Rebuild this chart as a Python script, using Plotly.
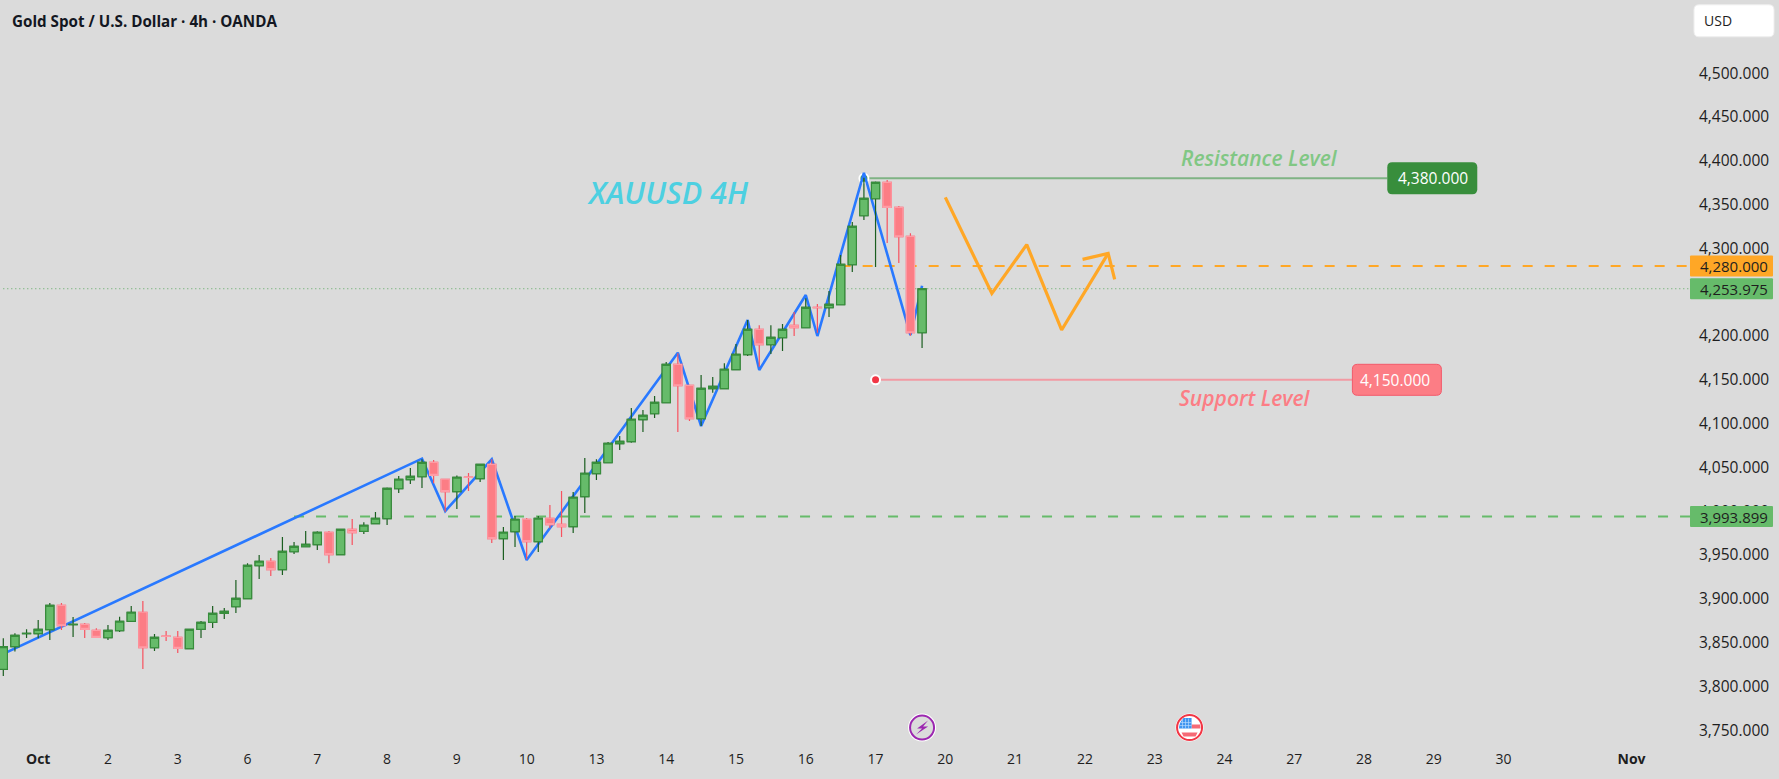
import plotly.graph_objects as go

# XAUUSD 4h bars, oldest first
opens = [3819.5,3845.4,3860.2,3860.2,3864.8,3892.5,3870.4,3870.8,3864.0,3855.6,3863.6,3874.3,3884.6,3844.2,3857.4,3856.0,3843.1,3865.1,3873.1,3883.4,
         3891.0,3900.2,3937.8,3942.8,3933.3,3953.8,3959.5,3961.8,3975.9,3950.4,3979.3,3977.0,3985.8,3991.5,4025.7,4036.0,4039.4,4055.8,4036.4,4022.3,
         4038.9,4037.2,4053.5,3968.7,3976.7,3990.8,3965.3,3991.9,3985.0,3982.4,4016.6,4042.9,4055.4,4077.1,4079.4,4104.5,4111.3,4123.9,4167.6,4143.7,
         4105.6,4139.9,4139.9,4161.6,4178.7,4207.6,4190.1,4198.1,4212.2,4209.5,4232.7,4232.3,4235.7,4281.4,4337.3,4356.7,4375.4,4346.9,4313.7,4203.8]
highs = [3854.9,3860.6,3865.1,3875.8,3895.2,3895.2,3879.2,3872.4,3866.3,3870.1,3879.6,3891.8,3897.5,3859.8,3863.2,3863.2,3865.1,3874.7,3891.8,3889.5,
         3921.5,3940.5,3950.0,3946.6,3970.5,3964.8,3977.4,3977.0,3977.4,3979.3,3991.1,3987.3,3999.1,4027.2,4040.2,4049.3,4059.2,4058.4,4036.4,4040.9,
         4043.6,4053.9,4059.2,3982.0,3994.6,3992.3,3994.6,4007.1,4023.1,4022.0,4060.8,4059.2,4079.0,4085.9,4117.8,4115.5,4131.5,4170.3,4180.2,4143.7,
         4155.5,4153.2,4168.8,4190.8,4218.2,4212.2,4212.2,4213.7,4227.4,4243.0,4236.5,4251.3,4292.4,4330.1,4380.7,4376.5,4378.0,4348.4,4317.2,4254.4]
lows = [3811.9,3839.7,3855.3,3854.9,3853.0,3864.4,3856.4,3855.3,3855.6,3853.0,3862.1,3874.3,3819.9,3840.4,3851.8,3838.1,3843.1,3855.3,3866.7,3876.9,
        3883.8,3900.2,3922.6,3926.0,3927.2,3951.1,3959.5,3955.7,3940.5,3950.4,3961.4,3974.0,3985.8,3984.2,4020.8,4031.0,4026.5,4031.8,3999.5,4002.5,
        4023.0,4033.4,3963.7,3944.3,3959.2,3945.1,3953.5,3980.5,3970.6,3975.2,3998.0,4035.6,4055.4,4069.9,4078.2,4090.4,4106.4,4123.9,4090.4,4103.0,
        4097.2,4135.3,4139.9,4161.6,4177.2,4165.0,4179.4,4182.9,4200.0,4209.5,4203.8,4221.7,4235.7,4273.0,4332.4,4278.7,4306.1,4283.3,4200.4,4186.3]
closes = [3845.4,3858.3,3860.6,3865.1,3892.5,3869.3,3870.8,3865.1,3856.0,3864.0,3874.3,3884.6,3844.2,3856.0,3857.0,3843.4,3865.1,3873.1,3883.4,3885.7,
          3900.5,3938.2,3942.8,3933.3,3954.2,3959.9,3962.2,3975.9,3950.4,3979.3,3975.5,3983.9,3991.9,4026.1,4036.4,4039.8,4055.8,4040.9,4022.3,4038.7,
          4038.5,4053.5,3968.7,3975.9,3990.8,3965.3,3991.9,3984.7,3982.4,4015.9,4043.3,4055.8,4077.5,4079.8,4104.9,4109.4,4124.3,4167.6,4143.3,4105.6,
          4140.2,4142.5,4162.0,4179.1,4207.6,4190.1,4198.5,4207.6,4209.5,4232.7,4232.3,4236.1,4281.8,4325.2,4357.1,4375.4,4346.9,4313.4,4203.8,4253.975]

# Blue swing line through the highs and lows
swing_bars = [-0.28,36,38,42,45,58,60,64,65,69,70,74,78,79]
swing_prices = [3835.5,4060.0,4000.2,4059.2,3944.3,4181.0,4097.2,4218.2,4161.2,4246.8,4200.0,4386.4,4201.1,4257.4]

# Projected path in orange, with its arrow head
path_bars = [81,85,88,91,95]
path_prices = [4358.3,4248.7,4304.3,4206.9,4294.4]
head_bars = [92.8,95,95.56]
head_prices = [4287.5,4294.4,4264.7]

# Levels
last_price = 4253.975
orange_level = 4280.0
green_level = 3993.899
resistance = 4380.0
support = 4150.0

# Axis labels
price_ticks = [3750,3800,3850,3900,3950,4000,4050,4100,4150,4200,4300,4350,4400,4450,4500]
date_bars = [3,9,15,21,27,33,39,45,51,57,63,69,75,81,87,93,99,105,111,117,123,129,140]
date_labels = ["<b>Oct</b>","2","3","6","7","8","9","10","13","14","15","16","17","20","21","22","23","24","27","28","29","30","<b>Nov</b>"]

X_RANGE = [-0.284, 145.03]
Y_RANGE = [3733.1, 4583.6]
END_BAR = X_RANGE[1]

GREEN = "#66bb6a"
ORANGE = "#ffa726"
RED = "#fc7d85"
BG = "#dbdbdb"
TEXT = "#1e1e1e"
FONT = "Open Sans, sans-serif"

bars = list(range(len(opens)))
fig = go.Figure()


def level(x0, x1, y, color, width, dash="solid"):
    fig.add_trace(go.Scatter(x=[x0, x1], y=[y, y], mode="lines", hoverinfo="skip",
                             line=dict(color=color, width=width, dash=dash)))


level(0, END_BAR, last_price, "#5aa860", 1, "1px,3px")
level(25, END_BAR, green_level, GREEN, 2, "10px,12px")
level(72, END_BAR, orange_level, ORANGE, 2, "10px,12px")
level(74, 119, resistance, "#7fb384", 2)
level(75, 116, support, "#f29aa3", 2)

# Anchor dots of the two level lines
fig.add_trace(go.Scatter(x=[74], y=[resistance], mode="markers", hoverinfo="skip",
                         marker=dict(size=9, color="#43a047", line=dict(color="white", width=2))))
fig.add_trace(go.Scatter(x=[75], y=[support], mode="markers", hoverinfo="skip",
                         marker=dict(size=9, color="#f23645", line=dict(color="white", width=2))))

fig.add_trace(go.Scatter(x=swing_bars, y=swing_prices, mode="lines", hoverinfo="skip",
                         line=dict(color="#2979ff", width=2.6)))
fig.add_trace(go.Scatter(x=path_bars, y=path_prices, mode="lines", hoverinfo="skip",
                         line=dict(color=ORANGE, width=3.2)))
fig.add_trace(go.Scatter(x=head_bars, y=head_prices, mode="lines", hoverinfo="skip",
                         line=dict(color=ORANGE, width=3.2)))

# Wicks first, then the bodies on top, so each can have its own outline colour
fig.add_trace(go.Candlestick(x=bars, open=opens, high=highs, low=lows, close=closes,
                             xaxis="x2", yaxis="y2", whiskerwidth=0, hoverinfo="skip",
                             increasing=dict(line=dict(color="#1b5e20", width=1.2), fillcolor=GREEN),
                             decreasing=dict(line=dict(color="#f7525f", width=1.2), fillcolor=RED)))
fig.add_trace(go.Candlestick(x=bars, open=opens, close=closes,
                             high=[max(o, c) for o, c in zip(opens, closes)],
                             low=[min(o, c) for o, c in zip(opens, closes)],
                             xaxis="x2", yaxis="y2", whiskerwidth=0, hoverinfo="skip",
                             increasing=dict(line=dict(color="#388e3c", width=1.1), fillcolor=GREEN),
                             decreasing=dict(line=dict(color="#ff9ca6", width=1.1), fillcolor=RED)))


def rounded(w, h, r):
    return (f"M {r} {h/2} L {w-r} {h/2} Q {w} {h/2} {w} {h/2-r} L {w} {-h/2+r} Q {w} {-h/2} {w-r} {-h/2} "
            f"L {r} {-h/2} Q 0 {-h/2} 0 {-h/2+r} L 0 {h/2-r} Q 0 {h/2} {r} {h/2} Z")


def pixel_path(xanchor, yanchor, path, fill, line=None, lw=0, xref="x"):
    return dict(type="path", xref=xref, yref="y", xsizemode="pixel", ysizemode="pixel",
                xanchor=xanchor, yanchor=yanchor, path=path, fillcolor=fill,
                line=dict(color=line or fill, width=lw), layer="above")


def pixel_circle(xanchor, yanchor, r, fill, line, lw):
    return dict(type="circle", xref="x", yref="y", xsizemode="pixel", ysizemode="pixel",
                xanchor=xanchor, yanchor=yanchor, x0=-r, x1=r, y0=-r, y1=r,
                fillcolor=fill, line=dict(color=line, width=lw), layer="above")


shapes = [
    pixel_path(119, resistance, rounded(90, 32, 5), "#388e3c"),
    pixel_path(116, support, rounded(89, 31, 5), RED, "#f2596a", 1),
    # price tags on the scale
    pixel_path(1, orange_level, rounded(83, 21, 1), ORANGE, xref="paper"),
    pixel_path(1, last_price, rounded(83, 21, 1), GREEN, xref="paper"),
    pixel_path(1, green_level, rounded(83, 21, 1), GREEN, xref="paper"),
    # event markers on the time scale
    pixel_circle(79, 3753, 14, "white", "white", 0),
    pixel_circle(79, 3753, 12, BG, "#9c27b0", 2),
    pixel_path(79, 3753, "M 6 7 L -5 -1 L 0 -1 L -6 -7 L 6 1 L 1 1 Z", "#9c27b0"),
    pixel_circle(102, 3753, 14, "white", "white", 0),
    pixel_circle(102, 3753, 12.5, "white", "#f23645", 2),
    pixel_path(102, 3753, "M 2 3 L 10.5 3 L 11 -1 L 2 -1 Z", "#f56a76"),
    pixel_path(102, 3753, "M -8 -5 L 8 -5 L 6 -9 L -6 -9 Z", "#f56a76"),
    pixel_path(102, 3753, "M -10.5 -1 L 2 -1 L 2 9.5 L -6 9.5 Q -10.5 5 -10.5 -1 Z", "#3d94f0"),
    dict(type="path", xref="x", yref="y", xsizemode="pixel", ysizemode="pixel", xanchor=102, yanchor=3753,
         path="M -7 -1 L -7 9 M -4 -1 L -4 9 M -1 -1 L -1 9 M -10 2 L 2 2 M -9 5 L 2 5",
         line=dict(color="#b9dafc", width=0.7), layer="above"),
]

annotations = []


def note(x, y, text, size, color, style="normal", weight="normal", xref="x", yref="y", xanchor="center"):
    annotations.append(dict(x=x, y=y, xref=xref, yref=yref, xanchor=xanchor, yanchor="middle", text=text,
                            showarrow=False, font=dict(family=FONT, size=size, color=color, style=style, weight=weight)))


note(57.15, 4364.7, "XAUUSD 4H", 30.5, "#4dd0e1", "italic", 600)
note(108, 4402.9, "Resistance Level", 21, "#81c784", "italic", 600)
note(106.8, 4129.2, "Support Level", 21, RED, "italic", 600)
note(122.9, resistance, "4,380.000", 15.5, "white")
note(119.7, support, "4,150.000", 15.5, "white")
for price, label in [(orange_level, "4,280.000"), (last_price, "4,253.975"), (green_level, "3,993.899")]:
    annotations.append(dict(x=1, xshift=44, y=price, xref="paper", yref="y", xanchor="center", yanchor="middle",
                            text=label, showarrow=False, font=dict(family=FONT, size=15, color=TEXT)))

# Title and currency button are placed in page fractions
annotations.append(dict(x=10 / 1690, y=1 - 21 / 745, xref="paper", yref="paper", xanchor="left", yanchor="middle",
                        text="<b>Gold Spot / U.S. Dollar · 4h · OANDA</b>", showarrow=False,
                        font=dict(family=FONT, size=15.2, color="#131722")))
shapes.append(dict(type="path", xref="paper", yref="paper", xsizemode="pixel", ysizemode="pixel",
                   xanchor=1, yanchor=1 - 20.8 / 745, path="M 9 16 L 79 16 Q 84 16 84 11 L 84 -11 Q 84 -16 79 -16 "
                   "L 9 -16 Q 4 -16 4 -11 L 4 11 Q 4 16 9 16 Z",
                   fillcolor="white", line=dict(color="#eeeeee", width=1), layer="above"))
annotations.append(dict(x=1, xshift=12, y=1 - 20.5 / 745, xref="paper", yref="paper", xanchor="left", yanchor="middle",
                        text="USD", showarrow=False, font=dict(family=FONT, size=14, color=TEXT)))

fig.update_layout(
    width=1779, height=779, autosize=False,
    margin=dict(l=0, r=89, t=0, b=34, pad=0),
    paper_bgcolor=BG, plot_bgcolor=BG,
    showlegend=False, boxmode="overlay", boxgroupgap=0, hovermode=False,
    shapes=shapes, annotations=annotations,
    xaxis=dict(range=X_RANGE, tickmode="array", tickvals=date_bars, ticktext=date_labels,
               showgrid=False, zeroline=False, showline=False, ticks="",
               tickfont=dict(family=FONT, size=14, color=TEXT), ticklabelstandoff=4),
    yaxis=dict(range=Y_RANGE, side="right", tickmode="array", tickvals=price_ticks,
               ticktext=[f"{p:,.3f}" for p in price_ticks], showgrid=False, zeroline=False,
               showline=False, ticks="", tickfont=dict(family=FONT, size=15.5, color=TEXT),
               ticklabelstandoff=8),
    xaxis2=dict(range=X_RANGE, overlaying="x", visible=False, rangeslider=dict(visible=False)),
    yaxis2=dict(range=Y_RANGE, overlaying="y", visible=False, side="right"),
)

fig.write_html("out.html", config=dict(displayModeBar=False))
